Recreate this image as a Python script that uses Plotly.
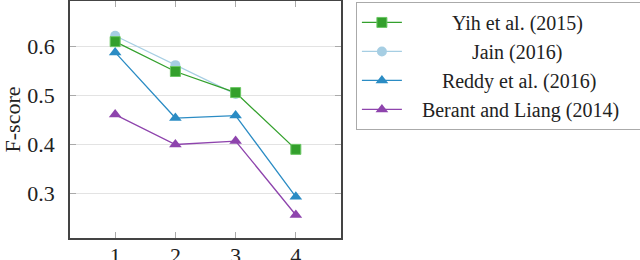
import plotly.graph_objects as go

x_vals = [1, 2, 3, 4]
yih = [0.610, 0.549, 0.506, 0.390]
jain_x = [1, 2, 3]
jain = [0.622, 0.562, 0.503]
reddy = [0.588, 0.454, 0.459, 0.293]
berant = [0.461, 0.400, 0.407, 0.256]

names = ["Yih et al. (2015)", "Jain (2016)", "Reddy et al. (2016)", "Berant and Liang (2014)"]
left_pads = [9, 13, 7, 3]
right_pads = [0, 0, 0, 3]
NB = "\u00a0"
labels = [NB * lp + n + NB * rp for lp, n, rp in zip(left_pads, names, right_pads)]

FONT = "'Liberation Serif', 'Times New Roman', Times, serif"

fig = go.Figure()
fig.add_trace(go.Scatter(x=jain_x, y=jain, name=labels[1], mode="lines+markers", legendrank=2,
                         line=dict(color="#a6cee3", width=1.3),
                         marker=dict(symbol="circle", size=10, color="#a6cee3")))
fig.add_trace(go.Scatter(x=x_vals, y=berant, name=labels[3], mode="lines+markers", legendrank=4,
                         line=dict(color="#8e44ad", width=1.3),
                         marker=dict(symbol="triangle-up", size=11, color="#8e44ad")))
fig.add_trace(go.Scatter(x=x_vals, y=reddy, name=labels[2], mode="lines+markers", legendrank=3,
                         line=dict(color="#2b8cc4", width=1.3),
                         marker=dict(symbol="triangle-up", size=11, color="#2b8cc4")))
fig.add_trace(go.Scatter(x=x_vals, y=yih, name=labels[0], mode="lines+markers", legendrank=1,
                         line=dict(color="#33a02c", width=1.3),
                         marker=dict(symbol="square", size=10, color="#33a02c",
                                     line=dict(color="#6cc765", width=1))))

fig.update_layout(
    width=640, height=260,
    margin=dict(l=70, r=299, t=1, b=22, autoexpand=False),
    paper_bgcolor="white", plot_bgcolor="white",
    font=dict(family=FONT, size=22, color="#222"),
    showlegend=True,
    legend=dict(x=1.055, y=0.996, xanchor="left", yanchor="top",
                bordercolor="#aaaaaa", borderwidth=1, bgcolor="white",
                font=dict(family=FONT, size=20, color="#222"),
                traceorder="normal", itemwidth=40),
    xaxis=dict(range=[0.25, 4.75], tickvals=x_vals, ticktext=[str(v) for v in x_vals],
               showgrid=False, zeroline=False, automargin=False,
               showline=True, linecolor="#444", linewidth=1.5, mirror="ticks",
               ticks="inside", ticklen=6, tickcolor="#aaaaaa", tickwidth=1,
               ticklabelstandoff=-3,
               tickfont=dict(family=FONT, size=22, color="#222")),
    yaxis=dict(range=[0.209, 0.693], tickvals=[0.3, 0.4, 0.5, 0.6],
               ticktext=["0.3", "0.4", "0.5", "0.6"], automargin=True,
               showgrid=True, gridcolor="#e3e3e3", gridwidth=1, zeroline=False,
               showline=True, linecolor="#444", linewidth=1.5, mirror="ticks",
               ticks="inside", ticklen=6, tickcolor="#aaaaaa", tickwidth=1,
               ticklabelstandoff=9,
               tickfont=dict(family=FONT, size=22, color="#222"),
               title=dict(text="F-score", standoff=10,
                          font=dict(family=FONT, size=22, color="#222"))),
)

fig.write_html("out.html", config={"displayModeBar": False},
               post_script="document.body.style.margin='0';")
